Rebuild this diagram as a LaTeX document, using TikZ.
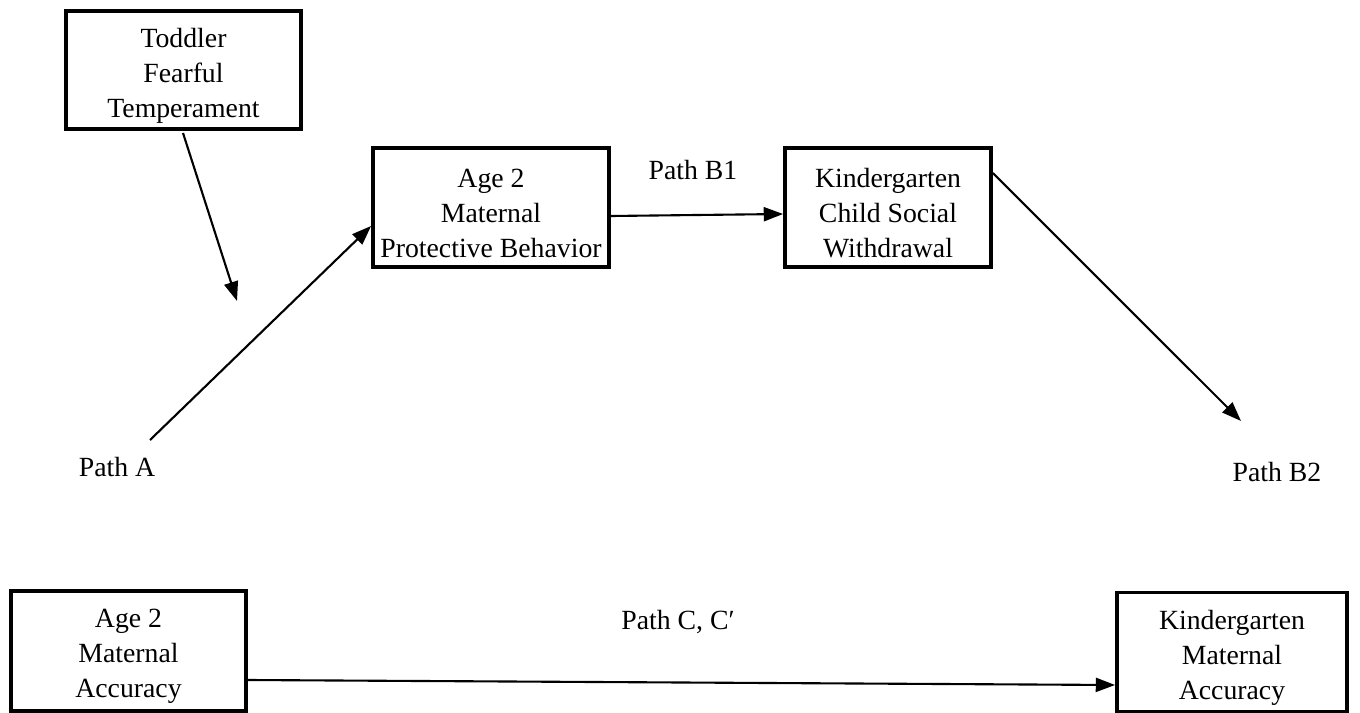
\documentclass[tikz,border=0pt]{standalone}
\usepackage{fontspec}
\setmainfont{Liberation Serif}
\usetikzlibrary{arrows.meta}
\begin{document}
\begin{tikzpicture}[x=0.02cm,y=-0.02cm,
  box/.style={draw, line width=2.2pt, inner sep=0pt},
  txt/.style={align=center, inner sep=0pt, yshift=-0.11cm,
    font=\fontsize{15.8}{19.9}\selectfont},
  lbl/.style={font=\fontsize{15.8}{19.9}\selectfont, inner sep=0pt},
  arr/.style={line width=1.2pt, -{Triangle[length=11pt,width=8pt]}}]
\useasboundingbox (0,0) rectangle (1360,713);
\node[box, minimum width=4.7cm, minimum height=2.36cm] (tod) at (183.5,70) {};
\node[txt] (todt) at (tod.center) {Toddler\\Fearful\\Temperament};
\node[box, minimum width=4.72cm, minimum height=2.38cm] (mpb) at (491,207.5) {};
\node[txt] (mpbt) at (mpb.center) {Age 2\\Maternal\\Protective Behavior};
\node[box, minimum width=4.12cm, minimum height=2.38cm] (csw) at (888,207.5) {};
\node[txt] (cswt) at (csw.center) {Kindergarten\\Child Social\\Withdrawal};
\node[box, minimum width=4.7cm, minimum height=2.4cm] (ma2) at (128.5,651) {};
\node[txt] (ma2t) at (ma2.center) {Age 2\\Maternal\\Accuracy};
\node[box, minimum width=4.6cm, minimum height=2.38cm] (kma) at (1232,652) {};
\node[txt] (kmat) at (kma.center) {Kindergarten\\Maternal\\Accuracy};
\node[lbl] (pa) at (117,467) {Path A};
\node[lbl] (pb1) at (693,170) {Path B1};
\node[lbl] (pb2) at (1277,472) {Path B2};
\node[lbl] (pc) at (678,622) {Path C, C′};
\coordinate (t1) at (237,301);
\coordinate (a0) at (150,440);
\coordinate (b2) at (1241,421);
\draw[arr] (183,133) -- (t1);
\draw[arr] (a0) -- (mpb.west |- 0,226);
\draw[arr] (mpb.east |- 0,216) -- (csw.west |- 0,214);
\draw[arr] (csw.east |- 0,173) -- (b2);
\draw[arr] (ma2.east |- 0,680) -- (kma.west |- 0,685);
\end{tikzpicture}
\end{document}
